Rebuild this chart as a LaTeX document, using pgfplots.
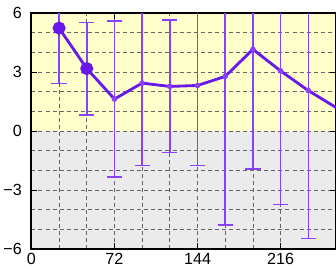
\documentclass[border=0pt]{standalone}
\usepackage{fontspec}
\setmainfont{Liberation Sans}
\usepackage{pgfplots}
\pgfplotsset{compat=1.18}
\definecolor{bgyel}{RGB}{255,255,204}
\definecolor{bggray}{RGB}{235,235,235}
\definecolor{mainpurple}{RGB}{104,24,232}
\definecolor{errpurple}{RGB}{140,64,255}
\pgfdeclareverticalshading{twotone}{100bp}{color(0bp)=(bggray); color(25bp)=(bggray); color(50bp)=(bggray); color(50.01bp)=(bgyel); color(75bp)=(bgyel); color(100bp)=(bgyel)}
\begin{document}
\begin{tikzpicture}[trim axis right]
\begin{axis}[
  scale only axis,
  width=301bp, height=233bp,
  xmin=0, xmax=264, ymin=-6, ymax=6,
  axis background/.style={shading=twotone},
  xtick={0,72,144,216}, xticklabels={0,72,144,216},
  ytick={-6,-3,0,3,6}, yticklabels={−6,−3,0,3,6},
  minor x tick num=2, minor y tick num=2,
  grid=both,
  major grid style={gray!80!black, line width=0.7pt, dash pattern=on 4pt off 3pt},
  minor grid style={gray!80!black, line width=0.7pt, dash pattern=on 4pt off 3pt},
  tick align=inside,
  major tick length=6bp, minor tick length=0bp,
  tick style={black, line width=1pt},
  axis line style={line width=2pt},
  ticklabel style={font=\fontsize{16}{18}\selectfont},
  xticklabel style={yshift=-1bp},
  yticklabel style={xshift=-6bp},
]
\addplot[errpurple, line width=1.5pt, only marks, mark=none,
  error bars/.cd, y dir=both, y explicit,
  error bar style={errpurple, line width=1.5pt, solid},
  error mark options={errpurple, rotate=90, mark size=7.5bp, line width=1.5pt}]
  coordinates {
(24,5.24) +- (0,2.82)
(48,3.18) +- (0,2.35)
(72,1.63) +- (0,3.97)
(96,2.44) +- (0,4.19)
(120,2.27) +- (0,3.37)
(144,2.32) +- (0,4.07)
(168,2.78) +- (0,7.56)
(192,4.16) +- (0,6.10)
(216,3.06) +- (0,6.79)
(240,2.06) +- (0,7.52)
};
\addplot[color=mainpurple, line width=2.8pt, mark=*, mark size=5bp, mark indices={1,2}, mark options={fill=mainpurple, draw=mainpurple}]
  table {
24 5.24
48 3.18
72 1.63
96 2.44
120 2.27
144 2.32
168 2.78
192 4.16
216 3.06
240 2.06
264 1.20
};
\end{axis}
\path (current axis.north west) ++(0,13bp);
\end{tikzpicture}
\end{document}
